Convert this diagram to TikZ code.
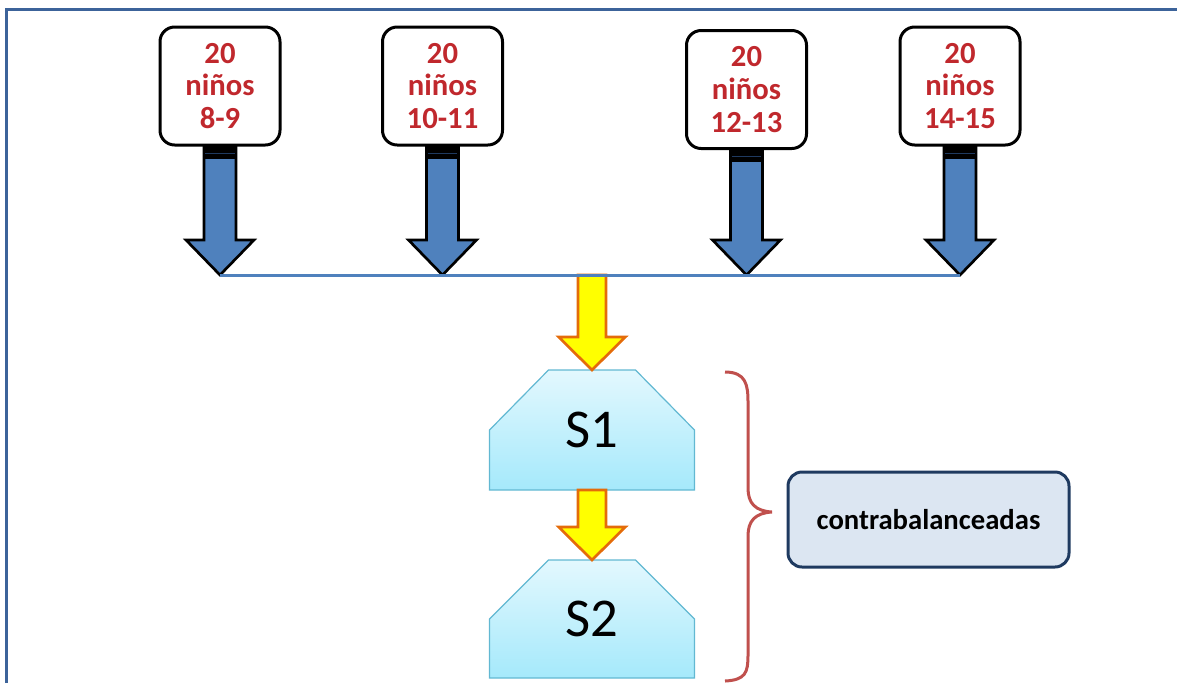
\documentclass[tikz,border=0pt]{standalone}
\usepackage{fontspec}
\setmainfont{Carlito}
\usepackage{tikz}
\usetikzlibrary{calc, backgrounds}
\definecolor{ninored}{HTML}{C0282D}
\definecolor{arrowblue}{HTML}{4F81BD}
\definecolor{frameblue}{HTML}{3C639A}
\definecolor{bracered}{HTML}{C0504D}
\definecolor{notefill}{HTML}{DCE6F2}
\definecolor{noteline}{HTML}{1F3A60}
\definecolor{sesline}{HTML}{62B8D2}
\definecolor{sestop}{HTML}{E3F8FE}
\definecolor{sesbottom}{HTML}{A5E9FB}
\definecolor{flowfill}{HTML}{FFFF00}
\definecolor{flowline}{HTML}{E46C0A}
\tikzstyle{group} = [rectangle, draw, rounded corners=11pt, line width=2.25pt, minimum width=90pt, minimum height=88.5pt, inner sep=0pt, align=center, text=ninored, font=\fontsize{23}{24.5}\selectfont\bfseries]
\tikzstyle{session} = [rectangle, outer sep=0pt, minimum width=153.75pt, font=\fontsize{41}{44}\selectfont]
\tikzstyle{note} = [rectangle, draw=noteline, fill=notefill, rounded corners=10.5pt, line width=2.25pt, minimum width=210.75pt, minimum height=71.25pt, font=\fontsize{21.5}{24}\selectfont\bfseries]
\tikzstyle{blue arrow} = [fill=arrowblue, draw=black, line width=2pt, line join=miter]
\tikzstyle{yellow arrow} = [fill=flowfill, draw=flowline, line width=2pt, line join=miter]

% fat arrow: from, to, half stem, half head, head length, style
\newcommand{\fatarrow}[6]{%
	\draw[#6] let \p1=(#1), \p2=(#2) in
		(\x1-#3,\y1) -- (\x1-#3,\y2+#5) -- (\x1-#4,\y2+#5) -- (\x1,\y2)
		-- (\x1+#4,\y2+#5) -- (\x1+#3,\y2+#5) -- (\x1+#3,\y1) -- cycle;
}
% arrow from a group box down to the line
\newcommand{\grouparrow}[2]{%
	\fatarrow{#1.south}{#2}{12pt}{25.5pt}{26.25pt}{blue arrow}
	\fill[black] let \p1=(#1.south) in (\x1-12pt,\y1) rectangle (\x1+12pt,\y1-9pt);
	\draw[noteline, line width=0.8pt] let \p1=(#1.south) in (\x1-11pt,\y1-5pt) -- (\x1+11pt,\y1-5pt);
}
% session shape behind its node
\newcommand{\sessionshape}[1]{%
	\begin{scope}[on background layer]
		\draw[sesline, line width=0.9pt, top color=sestop, bottom color=sesbottom]
			(#1.south west) -- (#1.west) -- ($(#1.north west)+(59,0)$) -- ($(#1.north east)+(-59,0)$)
			-- (#1.east) -- (#1.south east) -- cycle;
	\end{scope}
}

\begin{document}
\begin{tikzpicture}[x=0.75pt, y=-0.75pt]
	\useasboundingbox (0,0) rectangle (1177,683);
	\draw[frameblue, line width=2.25pt] (6,683) -- (6,9) -- (1177,9);

	% groups of children
	\node [group] (g1) at (220,86) {20\\niños\\8-9};
	\node [group] (g2) at (442.5,86) {20\\niños\\10-11};
	\node [group] (g3) at (746.5,89.5) {20\\niños\\12-13};
	\node [group] (g4) at (960,86) {20\\niños\\14-15};

	\coordinate (t1) at (g1.south |- 0,275);
	\coordinate (t2) at (g2.south |- 0,275);
	\coordinate (t3) at (g3.south |- 0,275);
	\coordinate (t4) at (g4.south |- 0,275);

	% sessions
	\node [session, minimum height=90pt] (s1) at (592,430) {S1};
	\node [session, minimum height=88.5pt] (s2) at (592,619) {S2};
	\sessionshape{s1}
	\sessionshape{s2}

	\node [note] (cb) at (928.5,519.5) {contrabalanceadas};

	\grouparrow{g1}{t1}
	\grouparrow{g2}{t2}
	\grouparrow{g3}{t3}
	\grouparrow{g4}{t4}

	\coordinate (bus) at (s1.north |- t1);
	\fatarrow{bus}{s1.north}{10.5pt}{25pt}{24.75pt}{yellow arrow}
	\fatarrow{s1.south}{s2.north}{10.5pt}{25pt}{24.75pt}{yellow arrow}
	\draw[arrowblue, line width=2.25pt] (t1) -- (t4);

	% brace
	\draw[bracered, line width=2.25pt] (725,372) .. controls (746,372) and (748,385) .. (748,402)
		-- (748,488) .. controls (748,503) and (755,511) .. (772,512)
		.. controls (755,513) and (748,521) .. (748,536)
		-- (748,655) .. controls (748,672) and (746,680) .. (725,681);
\end{tikzpicture}
\end{document}
